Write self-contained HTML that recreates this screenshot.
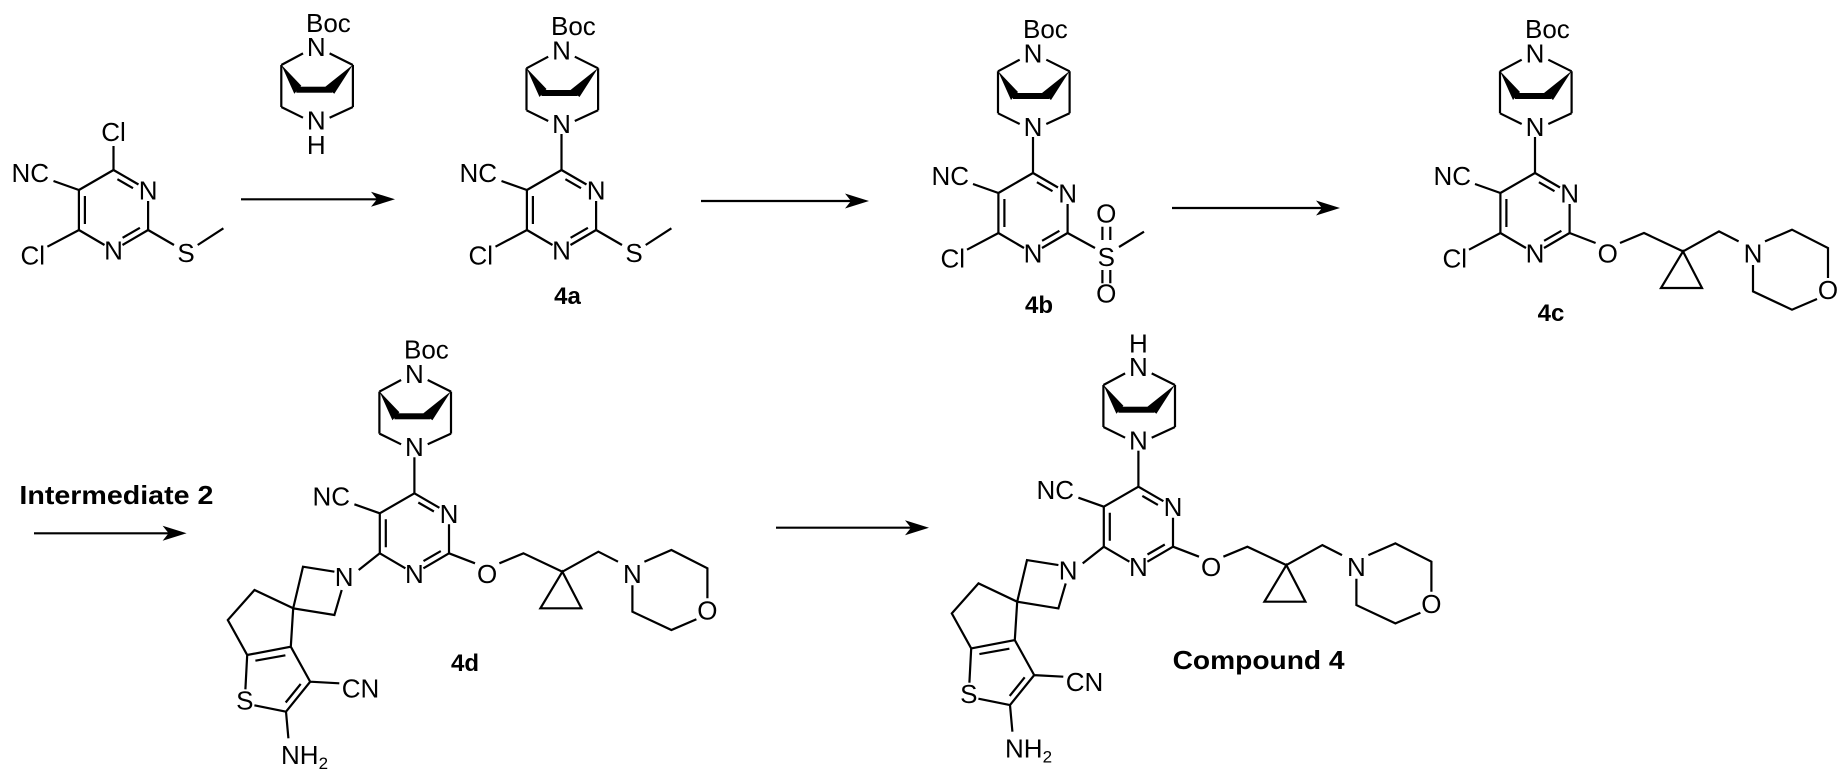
<!DOCTYPE html>
<html><head><meta charset="utf-8"><style>
html,body{margin:0;padding:0;background:#fff;}
svg{display:block;}
text{font-family:"Liberation Sans",Arial,sans-serif;font-size:26px;fill:#000;}
.m{text-anchor:middle;}
.e{text-anchor:end;}
.b{font-weight:bold;font-size:24px;}
</style></head><body>
<svg width="1847" height="780" viewBox="0 0 1847 780" xmlns="http://www.w3.org/2000/svg">
<defs>
<g id="pyr" fill="none" stroke="#000" stroke-width="2.2">
<path d="M0,-40 L25,-25.5 M34.6,-9 L34.6,20 M34.6,20 L9,35 M-9,35 L-34.6,20 M-34.6,20 L-34.6,-20 M-34.6,-20 L0,-40 M3.9,-30.8 L19.5,-21.8 M-28.6,-14 L-28.6,14 M26.4,17.8 L9.1,27.8 M-34.6,-20 L-60,-29"/>
</g>
<g id="bic">
<path fill="none" stroke="#000" stroke-width="2.2" d="M-35,-141.7 L-13.3,-153.3 M13.3,-153.3 L36.6,-141.7 M-35,-141.7 L-35,-99.7 M36.6,-141.7 L36.6,-99.7 M-35,-99.7 L-13.3,-89 M13.3,-89 L36.6,-99.7"/>
<polygon points="-35,-142 -22,-113 -15,-121" fill="#000"/>
<polygon points="36.6,-142 9,-120 18,-113" fill="#000"/>
<rect x="-20" y="-120" width="36" height="6" fill="#000"/>
</g>
<g id="bicR">
<use href="#bic"/>
<path fill="none" stroke="#000" stroke-width="2.2" d="M0,-76 L0,-40"/>
</g>
<g id="chain" fill="none" stroke="#000" stroke-width="2.2">
<path d="M34.6,20 L60.6,30 M85,30 L109,20 L148,38.4 M148,38.4 L126,75 L167,75 Z M148,38.4 L184,18.4 L203.6,28.4 M230,28.4 L257,16.7 L293,35 L293,65 M282,86 L257,96.7 L218,78.4 L218,52"/>
</g>
<g id="spiro" fill="none" stroke="#000" stroke-width="2.2">
<path d="M-34.6,20 L-55.7,36.7 M-80,38.4 L-111.4,33.4 L-121.2,75 L-80,81.7 L-72.7,56.7 M-121.2,75 L-159.9,56.7 L-186.6,86.7 L-167.2,121.7 L-123.6,113.4 L-121.2,75 M-167.2,121.7 L-169,156 M-160,172 L-128.4,178.4 L-104.2,148.4 L-123.6,113.4 M-104.2,148.4 L-75.1,150 M-128.4,178.4 L-126,205 M-159,127.4 L-129,122 M-128.7,169.2 L-113.7,150.6"/>
</g>
<path id="ah" d="M0,0 L-24,-7.5 L-18,0 L-24,7.5 Z" fill="#000"/>
</defs>

<g stroke="#000" stroke-width="2.2">
<line x1="241" y1="199.3" x2="380" y2="199.3"/>
<line x1="701" y1="201" x2="855" y2="201"/>
<line x1="1172" y1="208" x2="1326" y2="208"/>
<line x1="34" y1="533.3" x2="172" y2="533.3"/>
<line x1="776" y1="527.7" x2="915" y2="527.7"/>
</g>
<use href="#ah" transform="translate(395,199.3)"/>
<use href="#ah" transform="translate(869,201)"/>
<use href="#ah" transform="translate(1340,208)"/>
<use href="#ah" transform="translate(186.6,533.3)"/>
<use href="#ah" transform="translate(929,527.7)"/>

<!-- starting material -->
<use href="#pyr" transform="translate(113.5,210)"/>
<g fill="none" stroke="#000" stroke-width="2.2">
<path d="M113.5,170 L113.5,146 M79,230 L47.4,246.7 M148.1,230 L174,245 M197.7,245 L223.4,228.3"/>
</g>
<text class="m" x="113.5" y="141">Cl</text>
<text class="e" x="49" y="182">NC</text>
<text class="m" x="148.1" y="199.5">N</text>
<text class="m" x="113.5" y="259.5">N</text>
<text class="e" x="45" y="264.5">Cl</text>
<text class="m" x="186" y="262">S</text>

<!-- reagent -->
<use href="#bic" transform="translate(316.3,206.7)"/>
<text x="306" y="32">Boc</text>
<text class="m" x="316.3" y="56">N</text>
<text class="m" x="316.3" y="129.5">N</text>
<text class="m" x="316.3" y="154">H</text>

<!-- 4a -->
<use href="#pyr" transform="translate(561.5,210)"/>
<use href="#bicR" transform="translate(561.5,210)"/>
<g fill="none" stroke="#000" stroke-width="2.2">
<path d="M527,230 L495.5,246.7 M596.1,230 L622,245 M645.7,245 L671.4,228.3"/>
</g>
<text x="551" y="35">Boc</text>
<text class="m" x="561.5" y="59.5">N</text>
<text class="m" x="561.5" y="132.8">N</text>
<text class="e" x="497" y="182">NC</text>
<text class="m" x="596.1" y="199.5">N</text>
<text class="m" x="561.5" y="259.5">N</text>
<text class="e" x="493" y="264.5">Cl</text>
<text class="m" x="634" y="262">S</text>
<text class="m b" x="567.5" y="304">4a</text>

<!-- 4b -->
<use href="#pyr" transform="translate(1033,213)"/>
<use href="#bicR" transform="translate(1033,213)"/>
<g fill="none" stroke="#000" stroke-width="2.2">
<path d="M998.5,233 L967,249.7 M1067.6,233 L1095,248 M1119,247 L1144,231.7 M1102.4,226.7 L1102.4,240 M1110.3,226.7 L1110.3,240 M1102.4,270 L1102.4,283.3 M1110.3,270 L1110.3,283.3"/>
</g>
<text x="1023" y="38">Boc</text>
<text class="m" x="1033" y="62.5">N</text>
<text class="m" x="1033" y="135.8">N</text>
<text class="e" x="969" y="185">NC</text>
<text class="m" x="1067.6" y="202.5">N</text>
<text class="m" x="1033" y="262.5">N</text>
<text class="e" x="965" y="267.5">Cl</text>
<text class="m" x="1106.3" y="266">S</text>
<text class="m" x="1106.3" y="222.5">O</text>
<text class="m" x="1106.3" y="302.5">O</text>
<text class="m b" x="1039" y="313">4b</text>

<!-- 4c -->
<use href="#pyr" transform="translate(1535,213)"/>
<use href="#bicR" transform="translate(1535,213)"/>
<use href="#chain" transform="translate(1535,213)"/>
<g fill="none" stroke="#000" stroke-width="2.2"><path d="M1500.5,233 L1469,249.7"/></g>
<text x="1525" y="38">Boc</text>
<text class="m" x="1535" y="62.5">N</text>
<text class="m" x="1535" y="135.8">N</text>
<text class="e" x="1471" y="185">NC</text>
<text class="m" x="1569.6" y="202.5">N</text>
<text class="m" x="1535" y="262.5">N</text>
<text class="e" x="1467" y="267.5">Cl</text>
<text class="m" x="1607.7" y="262.5">O</text>
<text class="m" x="1753" y="262.5">N</text>
<text class="m" x="1828" y="299">O</text>
<text class="m b" x="1551" y="321">4c</text>

<text class="b" x="19.4" y="504" style="font-size:26px" textLength="194" lengthAdjust="spacingAndGlyphs">Intermediate 2</text>

<!-- 4d -->
<use href="#pyr" transform="translate(414.4,533.3)"/>
<use href="#bicR" transform="translate(414.4,533.3)"/>
<use href="#chain" transform="translate(414.4,533.3)"/>
<use href="#spiro" transform="translate(414.4,533.3)"/>
<text x="404" y="358.3">Boc</text>
<text class="m" x="414.4" y="382.8">N</text>
<text class="m" x="414.4" y="456">N</text>
<text class="e" x="350" y="505.5">NC</text>
<text class="m" x="449" y="522.8">N</text>
<text class="m" x="414.4" y="582.8">N</text>
<text class="m" x="344.1" y="586">N</text>
<text class="m" x="487.1" y="582.8">O</text>
<text class="m" x="632.4" y="582.8">N</text>
<text class="m" x="707.4" y="619.5">O</text>
<text class="m" x="244.8" y="709.5">S</text>
<text x="341.7" y="697.5">CN</text>
<text x="281" y="764">NH<tspan font-size="17" dy="5">2</tspan></text>
<text class="m b" x="465" y="671">4d</text>

<!-- Compound 4 -->
<use href="#pyr" transform="translate(1138.4,526.7)"/>
<use href="#bicR" transform="translate(1138.4,526.7)"/>
<use href="#chain" transform="translate(1138.4,526.7)"/>
<use href="#spiro" transform="translate(1138.4,526.7)"/>
<text class="m" x="1138.4" y="352.5">H</text>
<text class="m" x="1138.4" y="376.2">N</text>
<text class="m" x="1138.4" y="449.5">N</text>
<text class="e" x="1074" y="499">NC</text>
<text class="m" x="1173" y="516.2">N</text>
<text class="m" x="1138.4" y="576.2">N</text>
<text class="m" x="1068.1" y="579.5">N</text>
<text class="m" x="1211.1" y="576.2">O</text>
<text class="m" x="1356.4" y="576.2">N</text>
<text class="m" x="1431.4" y="613">O</text>
<text class="m" x="968.8" y="703">S</text>
<text x="1065.7" y="691">CN</text>
<text x="1005" y="757.5">NH<tspan font-size="17" dy="5">2</tspan></text>
<text class="m b" x="1258.6" y="669" style="font-size:26px" textLength="172" lengthAdjust="spacingAndGlyphs">Compound 4</text>
</svg>
</body></html>
